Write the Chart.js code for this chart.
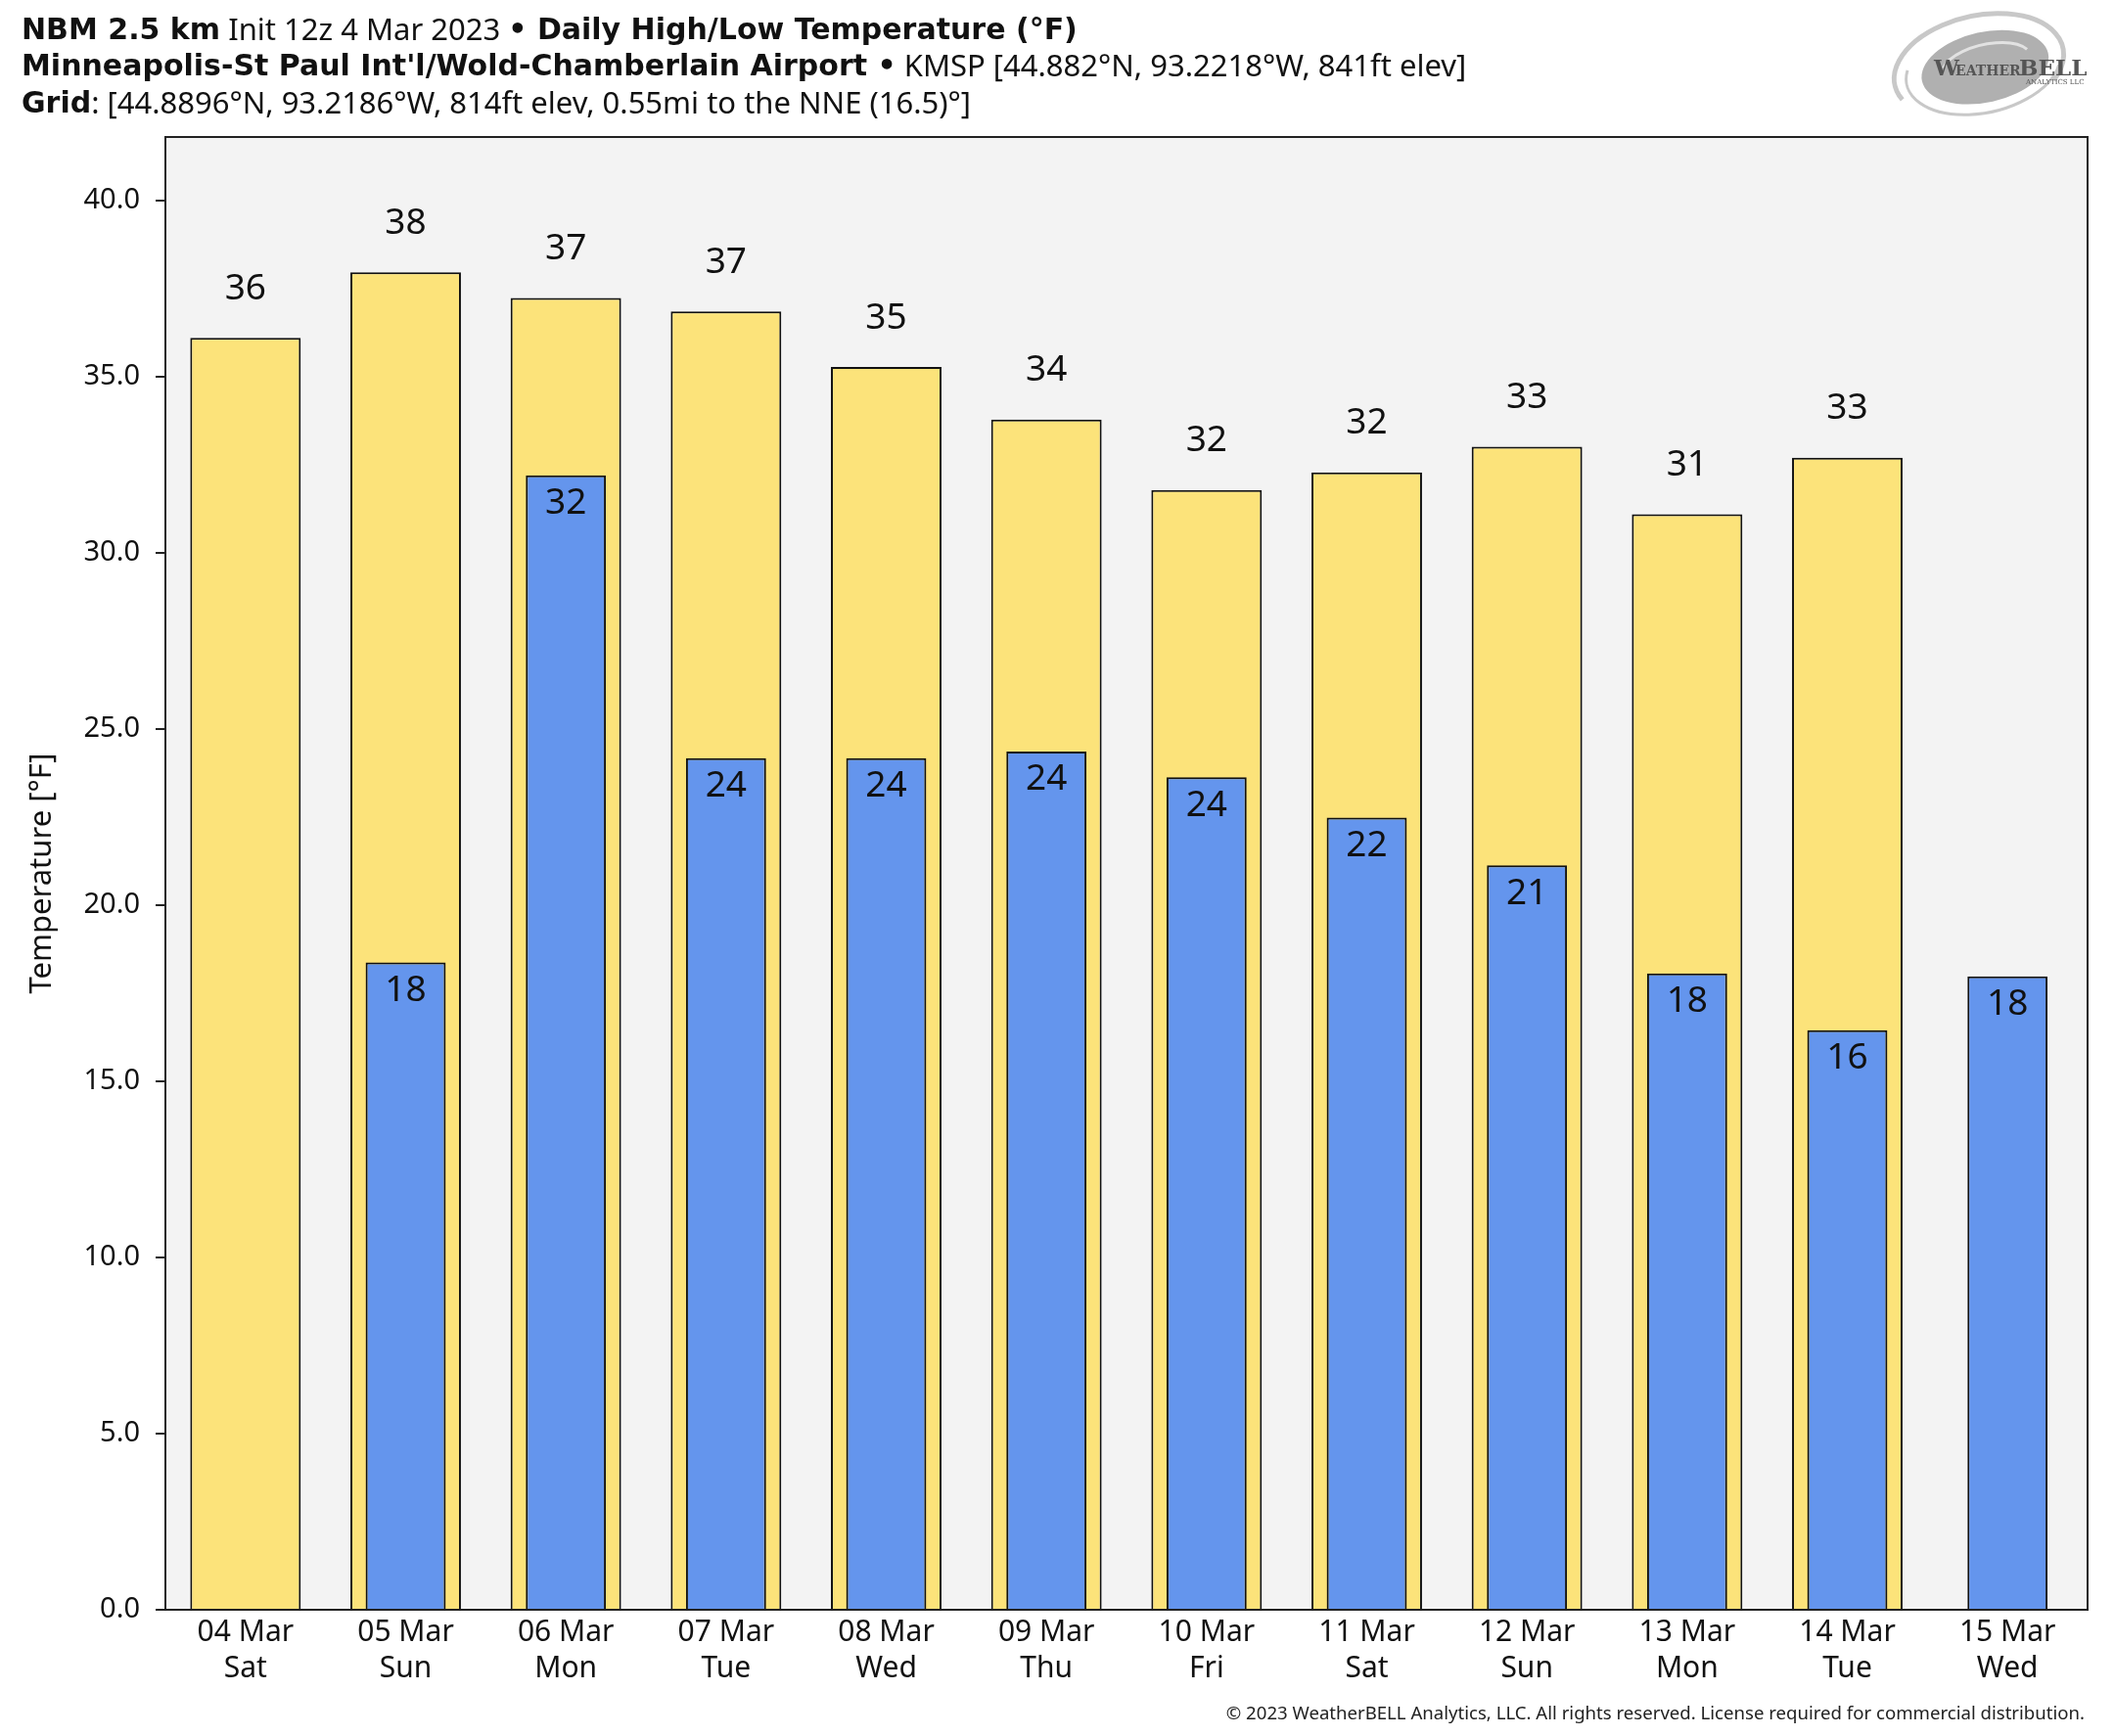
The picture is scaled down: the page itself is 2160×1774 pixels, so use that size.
<!DOCTYPE html>
<html>
<head>
<meta charset="utf-8">
<script src="https://cdn.jsdelivr.net/npm/chart.js@4.4.1/dist/chart.umd.min.js"></script>
<style>
  html, body { margin: 0; padding: 0; background: #ffffff; }
  #wrap { width: 2160px; height: 1774px; }
</style>
</head>
<body>
<div id="wrap"><canvas id="tempChart" width="2160" height="1774"></canvas></div>
<script>
// Jours de prévision (date + jour de semaine)
const days = [
  ['04 Mar', 'Sat'], ['05 Mar', 'Sun'], ['06 Mar', 'Mon'], ['07 Mar', 'Tue'],
  ['08 Mar', 'Wed'], ['09 Mar', 'Thu'], ['10 Mar', 'Fri'], ['11 Mar', 'Sat'],
  ['12 Mar', 'Sun'], ['13 Mar', 'Mon'], ['14 Mar', 'Tue'], ['15 Mar', 'Wed']
];
// Températures max / min (°F)
const highs = [36.1, 37.96, 37.23, 36.85, 35.27, 33.78, 31.78, 32.28, 33.01, 31.09, 32.7, null];
const lows = [null, 18.37, 32.2, 24.17, 24.17, 24.36, 23.63, 22.48, 21.13, 18.06, 16.45, 17.98];
const yTicks = [0, 5, 10, 15, 20, 25, 30, 35, 40];

const titleLines = [
  [['b', 'NBM 2.5 km'], ['r', ' Init 12z 4 Mar 2023 '], ['b', '\u2022 Daily High/Low Temperature (\u00b0F)']],
  [['b', "Minneapolis-St Paul Int'l/Wold-Chamberlain Airport \u2022"], ['r', ' KMSP [44.882\u00b0N, 93.2218\u00b0W, 841ft elev]']],
  [['b', 'Grid'], ['r', ': [44.8896\u00b0N, 93.2186\u00b0W, 814ft elev, 0.55mi to the NNE (16.5)\u00b0]']]
];
const copyright = '\u00a9 2023 WeatherBELL Analytics, LLC. All rights reserved. License required for commercial distribution.';

const FONT = '"Noto Sans", "Open Sans", sans-serif';
const BOLD_FONT = 'bold 30px "DejaVu Sans", sans-serif';

// Fond gris + cadre de la zone de tracé
const frame = {
  id: 'frame',
  beforeDatasetsDraw(chart) {
    const { ctx, chartArea: a } = chart;
    ctx.save();
    ctx.fillStyle = '#f3f3f3';
    ctx.fillRect(a.left, a.top, a.right - a.left, a.bottom - a.top);
    ctx.restore();
  },
  afterDatasetsDraw(chart) {
    const { ctx, chartArea: a } = chart;
    ctx.save();
    ctx.strokeStyle = '#222';
    ctx.lineWidth = 2;
    ctx.strokeRect(a.left, a.top, a.right - a.left, a.bottom - a.top);
    ctx.restore();
  }
};

// Étiquettes de valeurs
const valueLabels = {
  id: 'valueLabels',
  afterDatasetsDraw(chart) {
    const ctx = chart.ctx;
    ctx.save();
    ctx.font = '37px ' + FONT;
    ctx.fillStyle = '#111';
    ctx.textAlign = 'center';
    ctx.textBaseline = 'middle';
    chart.data.datasets.forEach((ds, di) => {
      const meta = chart.getDatasetMeta(di);
      meta.data.forEach((bar, i) => {
        const v = ds.data[i];
        if (v === null) return;
        const dy = ds.label === 'High' ? -50 : 29;
        ctx.fillText(String(Math.round(v)), bar.x, bar.y + dy);
      });
    });
    ctx.restore();
  }
};

// Titres, logo, copyright
const decorations = {
  id: 'decorations',
  afterDraw(chart) {
    const ctx = chart.ctx;
    ctx.save();
    ctx.fillStyle = '#111';
    ctx.textBaseline = 'middle';
    ctx.textAlign = 'left';
    const ys = [32, 69, 107];
    titleLines.forEach((line, li) => {
      let x = 22;
      line.forEach(([w, t]) => {
        ctx.font = w === 'b' ? BOLD_FONT : '31px ' + FONT;
        ctx.fillText(t, x, ys[li]);
        x += ctx.measureText(t).width;
      });
    });

    ctx.font = '18.6px ' + FONT;
    ctx.textAlign = 'right';
    ctx.fillStyle = '#222';
    ctx.fillText(copyright, 2130, 1752);

    // logo
    const cx = 2022, cy = 68;
    ctx.translate(cx, cy);
    ctx.rotate(-0.22);
    ctx.strokeStyle = '#c8c8c8';
    ctx.lineWidth = 5;
    ctx.beginPath();
    ctx.ellipse(0, 0, 88, 52, 0, Math.PI * 0.9, Math.PI * 2.2);
    ctx.stroke();
    ctx.lineWidth = 3;
    ctx.beginPath();
    ctx.ellipse(4, 2, 80, 46, 0, Math.PI * 0.1, Math.PI * 1.1);
    ctx.stroke();
    ctx.fillStyle = '#b0b0b0';
    ctx.beginPath();
    ctx.ellipse(6, 2, 66, 36, 0, 0, Math.PI * 2);
    ctx.fill();
    ctx.strokeStyle = '#e2e2e2';
    ctx.lineWidth = 3;
    ctx.beginPath();
    ctx.ellipse(8, 0, 46, 21, 0, Math.PI * 1.1, Math.PI * 1.9);
    ctx.stroke();
    ctx.setTransform(1, 0, 0, 1, 0, 0);
    ctx.fillStyle = '#555';
    ctx.textAlign = 'left';
    ctx.textBaseline = 'alphabetic';
    ctx.font = 'bold 23px "DejaVu Serif", serif';
    ctx.fillText('W', 1976, 77);
    ctx.font = 'bold 14px "DejaVu Serif", serif';
    ctx.fillText('EATHER', 1998, 77);
    ctx.font = 'bold 23px "DejaVu Serif", serif';
    ctx.fillText('BELL', 2063, 77);
    ctx.font = '7px "DejaVu Serif", serif';
    ctx.fillText('ANALYTICS LLC', 2070, 86);
    ctx.restore();
  }
};

const ctx = document.getElementById('tempChart').getContext('2d');
window.tempChart = new Chart(ctx, {
  type: 'bar',
  data: {
    labels: days,
    datasets: [
      {
        label: 'Low',
        data: lows,
        backgroundColor: '#6495ed',
        borderColor: '#111',
        borderWidth: 2,
        borderSkipped: 'bottom',
        grouped: false,
        categoryPercentage: 1.0,
        barPercentage: 0.5,
        order: 1
      },
      {
        label: 'High',
        data: highs,
        backgroundColor: '#fce37a',
        borderColor: '#111',
        borderWidth: 2,
        borderSkipped: 'bottom',
        grouped: false,
        categoryPercentage: 1.0,
        barPercentage: 0.69,
        order: 2
      }
    ]
  },
  options: {
    responsive: false,
    devicePixelRatio: 1,
    animation: false,
    layout: { padding: { top: 140, right: 27, left: 0, bottom: 0 } },
    plugins: {
      legend: { display: false },
      tooltip: { enabled: false },
      title: { display: false }
    },
    scales: {
      x: {
        grid: { display: false, drawTicks: false },
        border: { display: false },
        ticks: {
          color: '#111',
          padding: 5,
          maxRotation: 0,
          autoSkip: false,
          font: { family: FONT, size: 30, lineHeight: 1.23 }
        },
        afterFit(scale) { scale.height = 129; }
      },
      y: {
        min: 0,
        max: 41.8,
        grid: { drawOnChartArea: false, drawTicks: true, tickLength: 10, color: '#222', lineWidth: 2 },
        border: { display: false },
        ticks: {
          color: '#111',
          padding: 16,
          font: { family: FONT, size: 29 },
          callback: v => v.toFixed(1)
        },
        afterBuildTicks(scale) { scale.ticks = yTicks.map(v => ({ value: v })); },
        title: {
          display: true,
          text: 'Temperature [\u00b0F]',
          color: '#111',
          font: { family: FONT, size: 31 },
          padding: { top: 25, bottom: 0 }
        },
        afterFit(scale) { scale.width = 169; }
      }
    }
  },
  plugins: [frame, valueLabels, decorations]
});
</script>
</body>
</html>
